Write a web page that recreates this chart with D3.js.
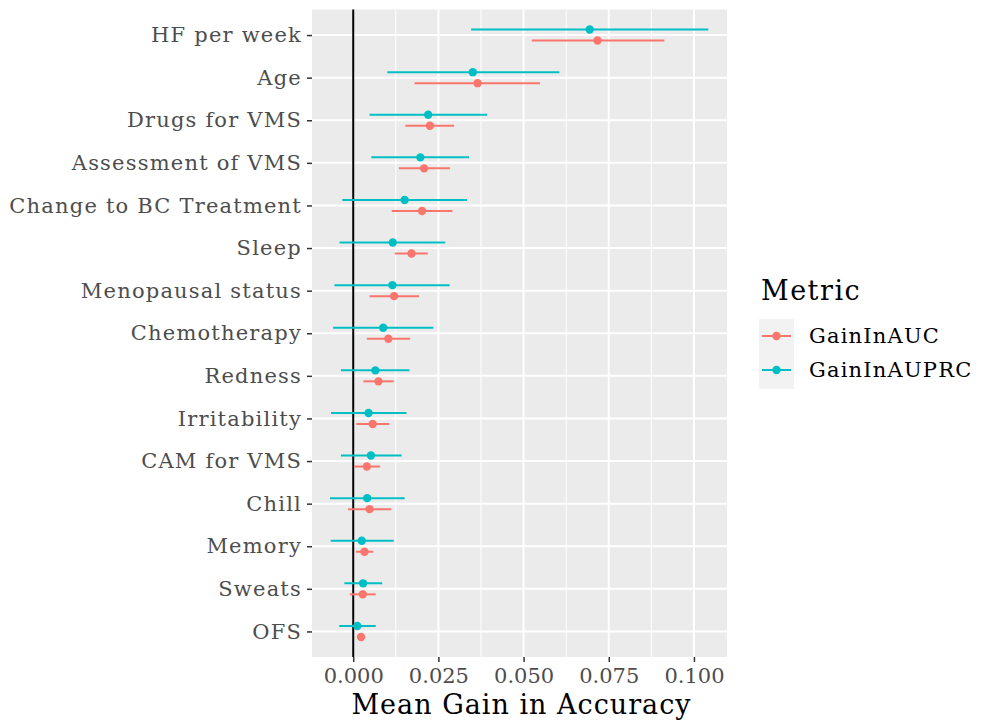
<!DOCTYPE html>
<html>
<head>
<meta charset="utf-8">
<script src="https://cdn.jsdelivr.net/npm/d3@7"></script>
<style>
  body { margin: 0; background: #fff; }
  text { font-family: "DejaVu Serif", serif; }
</style>
</head>
<body>
<div id="chart-area"></div>
<script>
var features = ['HF per week', 'Age', 'Drugs for VMS', 'Assessment of VMS', 'Change to BC Treatment',
  'Sleep', 'Menopausal status', 'Chemotherapy', 'Redness', 'Irritability', 'CAM for VMS',
  'Chill', 'Memory', 'Sweats', 'OFS']

// GainInAUC
var aucMean = [0.0717, 0.0365, 0.0225, 0.0208, 0.0202, 0.0171, 0.0120, 0.0103, 0.0074, 0.0057, 0.0040, 0.0048, 0.0033, 0.0028, 0.0023]
var aucLow  = [0.0524, 0.0180, 0.0153, 0.0134, 0.0113, 0.0122, 0.0048, 0.0040, 0.0030, 0.0009, 0.0003, -0.0015, 0.0008, -0.0010, 0.0013]
var aucHigh = [0.0913, 0.0548, 0.0296, 0.0284, 0.0291, 0.0219, 0.0193, 0.0167, 0.0119, 0.0106, 0.0079, 0.0112, 0.0059, 0.0066, 0.0034]

// GainInAUPRC
var prcMean = [0.0694, 0.0351, 0.0220, 0.0197, 0.0151, 0.0116, 0.0115, 0.0088, 0.0065, 0.0045, 0.0052, 0.0041, 0.0025, 0.0029, 0.0012]
var prcLow  = [0.0346, 0.0100, 0.0048, 0.0053, -0.0032, -0.0040, -0.0055, -0.0059, -0.0036, -0.0065, -0.0036, -0.0068, -0.0066, -0.0026, -0.0041]
var prcHigh = [0.1042, 0.0605, 0.0393, 0.0340, 0.0334, 0.0270, 0.0283, 0.0235, 0.0165, 0.0156, 0.0142, 0.0151, 0.0119, 0.0085, 0.0066]

var xTicks = [0, 0.025, 0.05, 0.075, 0.1]
var xMinor = [0.0125, 0.0375, 0.0625, 0.0875]

var metrics = ['GainInAUC', 'GainInAUPRC']
var colors = ['#F8766D', '#00BFC4']

var W = 986, H = 720
var panel = { left: 312, right: 727, top: 9.5, bottom: 657 }

var svg = d3.select('#chart-area').append('svg')
  .attr('width', W).attr('height', H)

var x = d3.scaleLinear().domain([-0.0121, 0.1097]).range([panel.left, panel.right])
var y = d3.scalePoint().domain(features).range([panel.top, panel.bottom]).padding(0.6)

svg.append('rect')
  .attr('x', panel.left).attr('y', panel.top)
  .attr('width', panel.right - panel.left).attr('height', panel.bottom - panel.top)
  .attr('fill', '#ebebeb')

var grid = svg.append('g')
grid.selectAll('.minor').data(xMinor).enter().append('line')
  .attr('x1', d => x(d)).attr('x2', d => x(d))
  .attr('y1', panel.top).attr('y2', panel.bottom)
  .attr('stroke', '#fff').attr('stroke-width', 1)
grid.selectAll('.vmajor').data(xTicks).enter().append('line')
  .attr('x1', d => x(d)).attr('x2', d => x(d))
  .attr('y1', panel.top).attr('y2', panel.bottom)
  .attr('stroke', '#fff').attr('stroke-width', 2)
grid.selectAll('.hmajor').data(features).enter().append('line')
  .attr('x1', panel.left).attr('x2', panel.right)
  .attr('y1', d => y(d)).attr('y2', d => y(d))
  .attr('stroke', '#fff').attr('stroke-width', 2)

// zero reference
svg.append('line')
  .attr('x1', x(0)).attr('x2', x(0))
  .attr('y1', panel.top).attr('y2', panel.bottom)
  .attr('stroke', '#000').attr('stroke-width', 2)

var rows = []
features.forEach((f, i) => {
  rows.push({ f: f, m: 0, mean: aucMean[i], lo: aucLow[i], hi: aucHigh[i] })
  rows.push({ f: f, m: 1, mean: prcMean[i], lo: prcLow[i], hi: prcHigh[i] })
})
var dodge = [5.5, -5.5]

var marks = svg.append('g')
marks.selectAll('line.ci').data(rows).enter().append('line')
  .attr('x1', d => x(d.lo)).attr('x2', d => x(d.hi))
  .attr('y1', d => y(d.f) + dodge[d.m]).attr('y2', d => y(d.f) + dodge[d.m])
  .attr('stroke', d => colors[d.m]).attr('stroke-width', 2)
marks.selectAll('circle').data(rows).enter().append('circle')
  .attr('cx', d => x(d.mean)).attr('cy', d => y(d.f) + dodge[d.m])
  .attr('r', 4.2).attr('fill', d => colors[d.m])

// axes
var xAxis = svg.append('g').attr('transform', `translate(0, ${panel.bottom})`)
  .call(d3.axisBottom(x).tickValues(xTicks).tickFormat(d3.format('.3f')).tickSize(5).tickPadding(6))
xAxis.select('.domain').remove()
xAxis.selectAll('line').attr('stroke', '#333').attr('stroke-width', 1.5)
xAxis.selectAll('text').attr('fill', '#4d4d4d').style('font-size', '21px')

var yAxis = svg.append('g').attr('transform', `translate(${panel.left}, 0)`)
  .call(d3.axisLeft(y).tickSize(5).tickPadding(5))
yAxis.select('.domain').remove()
yAxis.selectAll('line').attr('stroke', '#333').attr('stroke-width', 1.5)
yAxis.selectAll('text').attr('fill', '#4d4d4d').style('font-size', '21px')
  .style('letter-spacing', '1.2px')

svg.append('text')
  .attr('x', (panel.left + panel.right) / 2 + 2).attr('y', 714)
  .attr('text-anchor', 'middle').attr('fill', '#000')
  .style('font-size', '27px').style('letter-spacing', '1px')
  .text('Mean Gain in Accuracy')

// legend
var legend = svg.append('g')
legend.append('text').attr('x', 761).attr('y', 300)
  .attr('fill', '#000').style('font-size', '27px').style('letter-spacing', '1.5px').text('Metric')
legend.append('rect').attr('x', 759).attr('y', 319)
  .attr('width', 35).attr('height', 70).attr('fill', '#f2f2f2')
metrics.forEach((m, i) => {
  var cy = 336 + i * 34
  legend.append('line').attr('x1', 762).attr('x2', 791).attr('y1', cy).attr('y2', cy)
    .attr('stroke', colors[i]).attr('stroke-width', 2)
  legend.append('circle').attr('cx', 776.5).attr('cy', cy).attr('r', 4.2).attr('fill', colors[i])
  legend.append('text').attr('x', 809).attr('y', cy).attr('dy', '0.35em')
    .attr('fill', '#000').style('font-size', '21px').style('letter-spacing', '1.2px').text(m)
})
</script>
</body>
</html>
